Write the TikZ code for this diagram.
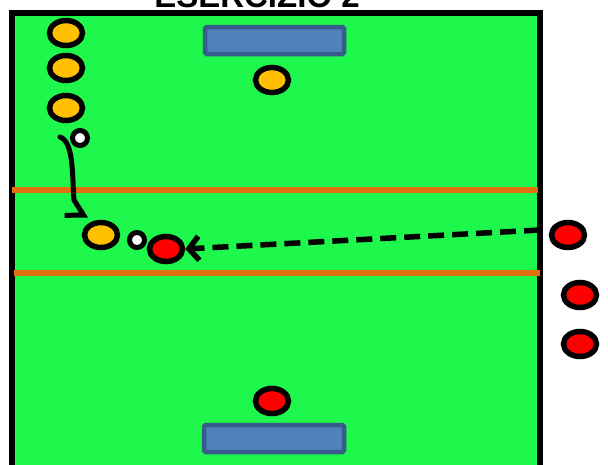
\documentclass[tikz,border=0pt]{standalone}
\usepackage{fontspec}
\setmainfont{Liberation Sans}
\usetikzlibrary{arrows.meta,shapes.geometric}
\definecolor{cfield}{HTML}{1EF74B}
\definecolor{cline}{HTML}{E2700E}
\definecolor{cgoal}{HTML}{4F81BD}
\definecolor{cgoalborder}{HTML}{385D8A}
\definecolor{cyellow}{HTML}{FFC000}
\definecolor{cred}{HTML}{FF0000}

\begin{document}
\begin{tikzpicture}[
    x=1pt, y=-1pt,
    yel/.style={draw=black, fill=cyellow, line width=5.5pt, ellipse, inner sep=0pt,
                minimum width=33pt, minimum height=25pt},
    red/.style={draw=black, fill=cred, line width=5.5pt, ellipse, inner sep=0pt,
                minimum width=33pt, minimum height=25pt},
    ball/.style={draw=black, fill=white, line width=5pt, circle, inner sep=0pt,
                 minimum size=15pt},
    goal/.style={draw=cgoalborder, fill=cgoal, line width=4.5pt, rounded corners=1.5pt},
    midline/.style={draw=cline, line width=5.5pt},
    pass/.style={-{Straight Barb[length=10pt,width=24pt]}, line width=5.5pt, dash pattern=on 16pt off 8pt},
    run/.style={-{Straight Barb[right,length=10pt,width=32pt]}, line width=5pt, line cap=round}
]
\useasboundingbox (0,0) rectangle (608,464);
\fill[white] (0,0) rectangle (608,464);

% field
\draw[fill=cfield, line width=6pt] (12,13) rectangle (540,490);
\draw[midline] (12,190) -- (538,190);
\draw[midline] (14,273) -- (540,273);

% goals
\draw[goal] (205,27) rectangle (344,54);
\draw[goal] (204,425) rectangle (344,452);

% title
\node[font=\bfseries\fontsize{33}{36}\selectfont, anchor=base] (title) at (257,7) {ESERCIZIO 2};

% players
\node[yel] (y1) at (66,33) {};
\node[yel] (y2) at (66,68) {};
\node[yel] (y3) at (66,108) {};
\node[yel] (y4) at (272,80) {};
\node[yel] (y5) at (101,235) {};

\node[red] (r1) at (166,249) {};
\node[red] (r2) at (272,401) {};
\node[red] (r3) at (568,235) {};
\node[red] (r4) at (580,295) {};
\node[red] (r5) at (580,344) {};

\node[ball] (b1) at (80,138) {};
\node[ball] (b2) at (137,240) {};

% movement
\coordinate (runstart) at (60,137);
\coordinate (passstart) at (540,230);
\draw[run] (runstart) .. controls (74,142) and (72,175) .. (74,200) -- (86,219);
\draw[pass] (passstart) -- (r1.east);
\end{tikzpicture}
\end{document}
